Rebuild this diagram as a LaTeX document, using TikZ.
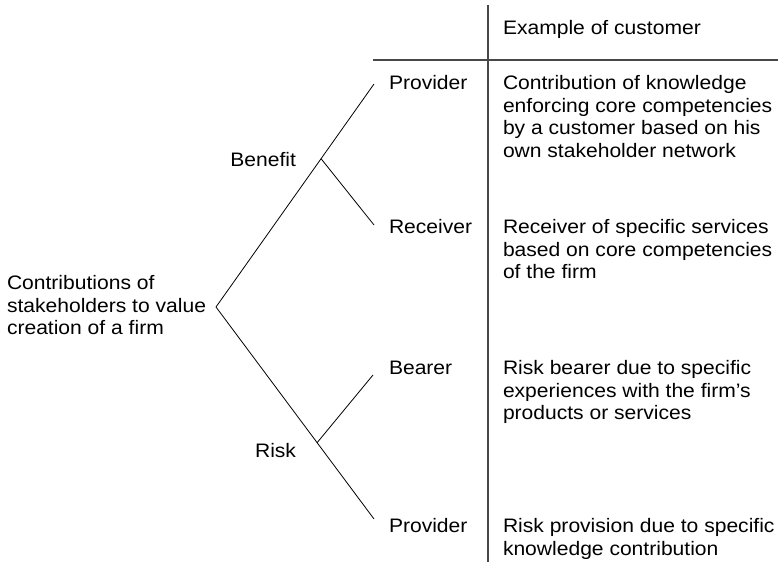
\documentclass[tikz,border=0pt]{standalone}
\usepackage{fontspec}
\setmainfont[FakeStretch=1.08]{Liberation Sans}
\usetikzlibrary{calc}
\tikzset{
  label text/.style={inner sep=0pt, outer sep=0pt, align=left,
    font=\fontsize{19.5}{22.4}\selectfont},
  branch/.style={draw=black, line width=0.8pt},
  rule/.style={draw=black!72, line width=1.4pt},
}
\begin{document}
\begin{tikzpicture}[x=1pt, y=1pt]
  \useasboundingbox (0,0) rectangle (778,564);

  % tree end points and junctions
  \coordinate (root)   at (216,257);
  \coordinate (provA)  at (374,480);
  \coordinate (provB)  at (374,45);
  \coordinate (benJ)   at ($(root)!0.665!(provA)$);
  \coordinate (riskJ)  at ($(root)!0.64!(provB)$);
  \coordinate (recv)   at (374,339);
  \coordinate (bear)   at (373,189);

  % table rules
  \coordinate (vTop) at (488,559);
  \coordinate (vBot) at (488,2);
  \coordinate (hL)   at (373,504);
  \coordinate (hR)   at (778,504);
  \draw[rule] (vTop) -- (vBot);
  \draw[rule, line width=1.1pt] (hL) -- (hR);

  % branches
  \draw[branch] (provA) -- (root) -- (provB);
  \draw[branch] (benJ) -- (recv);
  \draw[branch] (riskJ) -- (bear);

  % labels of the tree (multi-line nodes are placed by their last baseline)
  \node[label text, anchor=base west] (rootT) at (7,229.2)
    {Contributions of\\stakeholders to value\\creation of a firm};
  \node[label text, anchor=base east] (benT) at (296,397) {Benefit};
  \node[label text, anchor=base east] (riskT) at (296,106) {Risk};
  \node[label text, anchor=base west] (provAT) at (389,474) {Provider};
  \node[label text, anchor=base west] (recvT)  at (389,330) {Receiver};
  \node[label text, anchor=base west] (bearT)  at (389,189) {Bearer};
  \node[label text, anchor=base west] (provBT) at (389,31)  {Provider};

  % column of examples
  \node[label text, anchor=base west] (head) at (503,529) {Example of customer};
  \node[label text, anchor=base west] (exA) at (503,406.8)
    {Contribution of knowledge\\enforcing core competencies\\by a customer based on his\\own stakeholder network};
  \node[label text, anchor=base west] (exB) at (503,285.2)
    {Receiver of specific services\\based on core competencies\\of the firm};
  \node[label text, anchor=base west] (exC) at (503,144.2)
    {Risk bearer due to specific\\experiences with the firm’s\\products or services};
  \node[label text, anchor=base west] (exD) at (503,8.6)
    {Risk provision due to specific\\knowledge contribution};
\end{tikzpicture}
\end{document}
